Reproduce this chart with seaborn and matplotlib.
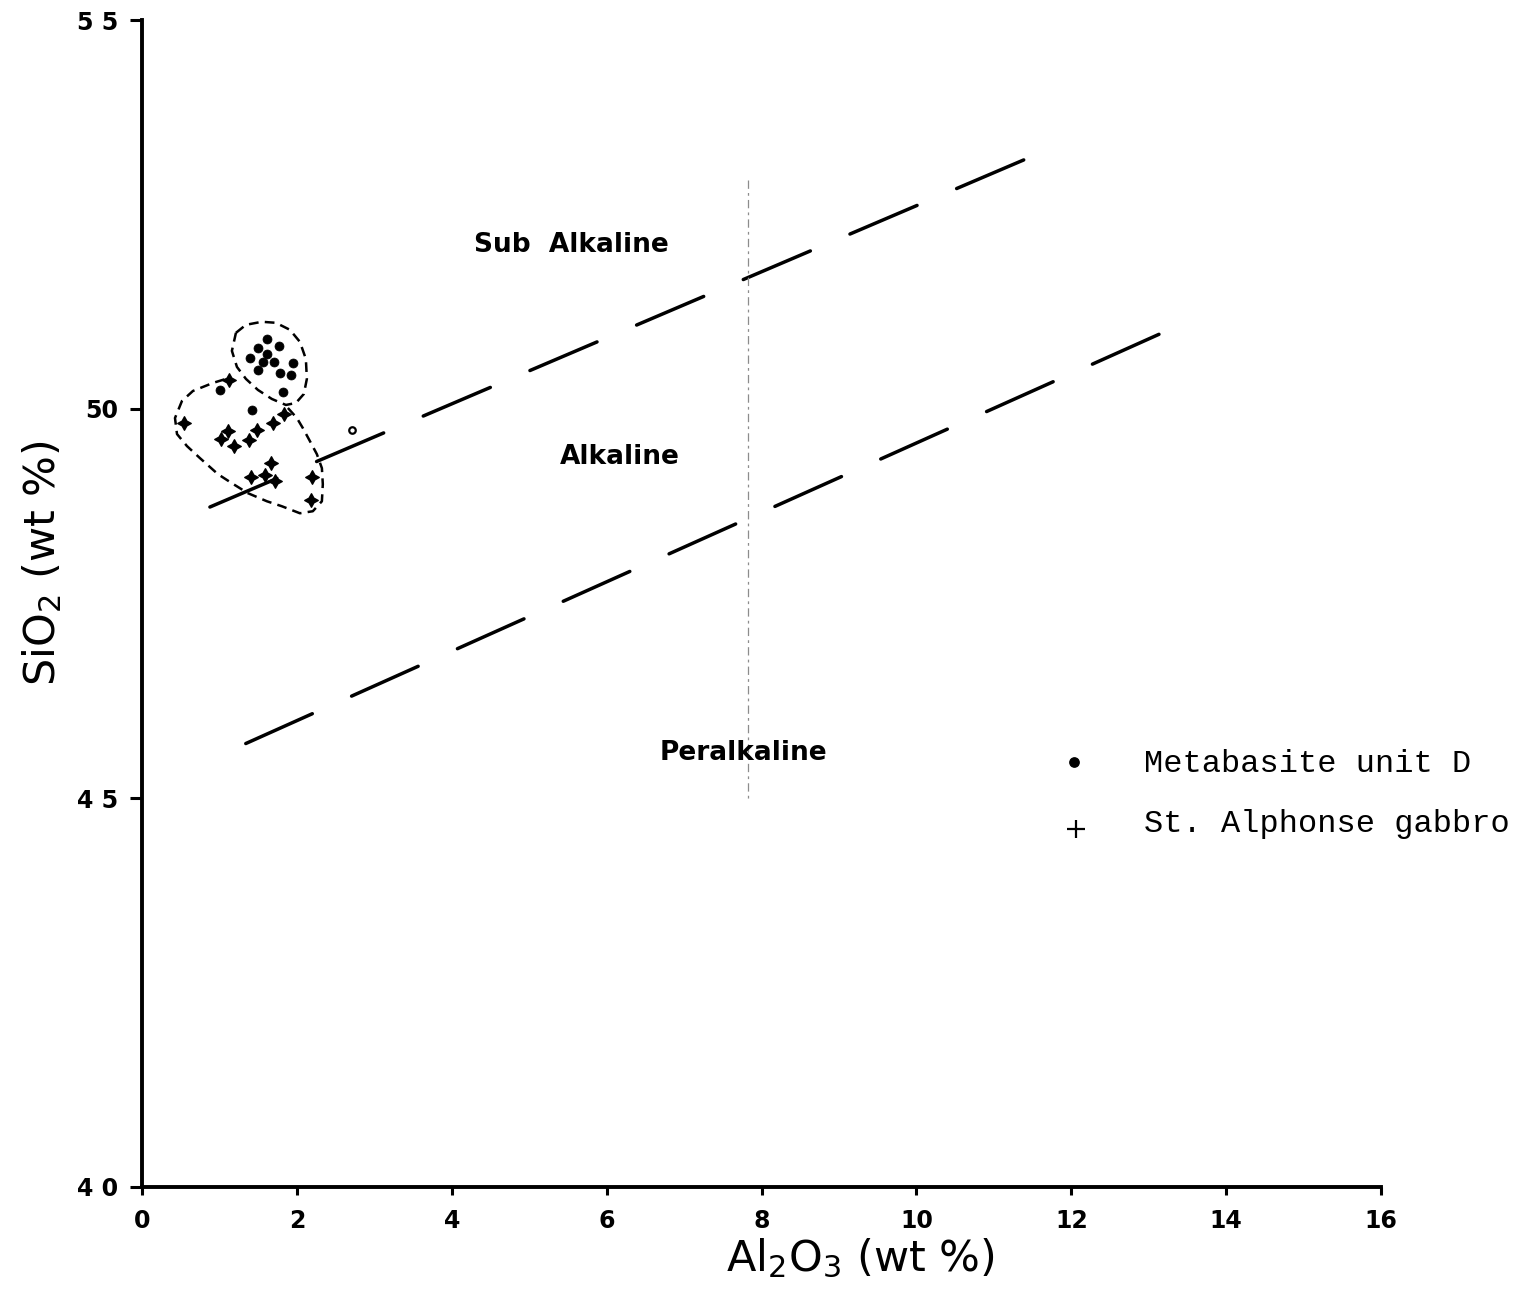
import numpy as np
import pandas as pd
import matplotlib
matplotlib.use("Agg")
import matplotlib.pyplot as plt
import seaborn as sns

# Al2O3 (x) and SiO2 (y), wt %
metabasite_al2o3 = [1.619, 1.503, 1.775, 1.394, 1.617, 1.557, 1.701, 1.955,
                    1.503, 1.783, 1.919, 1.823, 1.415, 1.006]
metabasite_sio2 = [50.898, 50.786, 50.805, 50.661, 50.711, 50.603, 50.603, 50.586,
                   50.499, 50.461, 50.441, 50.216, 49.981, 50.245]

gabbro_al2o3 = [0.542, 1.114, 1.019, 1.194, 1.385, 1.486, 1.694, 1.836,
                1.665, 1.413, 1.587, 1.723, 2.194, 2.181, 1.123]
gabbro_sio2 = [49.816, 49.723, 49.616, 49.528, 49.603, 49.732, 49.816, 49.932,
               49.302, 49.130, 49.152, 49.072, 49.121, 48.830, 50.374]

open_al2o3 = [2.714]
open_sio2 = [49.726]

# field boundaries (end points)
upper_boundary_x = [0.877, 11.43]
upper_boundary_y = [48.74, 53.22]
lower_boundary_x = [1.34, 13.20]
lower_boundary_y = [45.70, 50.99]
divider_x = [7.83, 7.83]
divider_y = [52.94, 44.95]

# hand-drawn outlines around the two groups
metabasite_outline_x = [1.213, 1.342, 1.548, 1.729, 1.910, 2.039, 2.116, 2.129,
                        2.090, 1.987, 1.858, 1.677, 1.497, 1.342, 1.226, 1.161]
metabasite_outline_y = [50.979, 51.082, 51.121, 51.108, 51.018, 50.863, 50.644, 50.387,
                        50.193, 50.077, 50.052, 50.129, 50.245, 50.387, 50.541, 50.747]
gabbro_outline_x = [1.884, 2.000, 2.077, 2.168, 2.258, 2.323, 2.335, 2.323, 2.206,
                    2.039, 1.806, 1.613, 1.368, 1.161, 0.981, 0.748, 0.581, 0.452,
                    0.426, 0.516, 0.658, 0.916, 1.123]
gabbro_outline_y = [50.013, 49.884, 49.755, 49.588, 49.420, 49.240, 49.034, 48.814, 48.686,
                    48.660, 48.750, 48.814, 48.918, 49.046, 49.162, 49.369, 49.523, 49.678,
                    49.884, 50.103, 50.232, 50.335, 50.399]

field_labels = ["Sub  Alkaline", "Alkaline", "Peralkaline"]
field_label_x = [5.55, 6.17, 7.77]
field_label_y = [52.11, 49.38, 45.58]

legend_labels = ["Metabasite unit D", "St. Alphonse gabbro"]

x_ticks = [0, 2, 4, 6, 8, 10, 12, 14, 16]
y_ticks = [40, 45, 50, 55]
y_tick_labels = ["4 0", "4 5", "50", "5 5"]

sns.set_theme(style="white")
plt.rcParams["font.family"] = ["DejaVu Sans"]
plt.rcParams["mathtext.default"] = "regular"
plt.rcParams["lines.scale_dashes"] = False

fig = plt.figure(figsize=(15.32, 12.92), dpi=100)
fig.patch.set_facecolor("white")
ax = fig.add_axes([142 / 1532, 1 - 1187 / 1292, (1381 - 142) / 1532, (1187 - 20) / 1292])
ax.set_facecolor("white")

# field boundaries
dash = (0, (52.5, 31.0))
ax.plot(upper_boundary_x, upper_boundary_y, color="black", lw=2.5,
        linestyle=dash, dash_capstyle="round")
ax.plot(lower_boundary_x, lower_boundary_y, color="black", lw=2.5,
        linestyle=dash, dash_capstyle="round")
ax.plot(divider_x, divider_y, color="0.55", lw=0.9, linestyle=(0, (6, 3, 2, 3)))

# group outlines
ax.plot(metabasite_outline_x + metabasite_outline_x[:1],
        metabasite_outline_y + metabasite_outline_y[:1],
        color="black", lw=1.8, linestyle=(0, (7, 4.5)))
ax.plot(gabbro_outline_x, gabbro_outline_y,
        color="black", lw=1.8, linestyle=(0, (7, 4.5)))

# samples
df_m = pd.DataFrame({"Al2O3": metabasite_al2o3, "SiO2": metabasite_sio2})
df_g = pd.DataFrame({"Al2O3": gabbro_al2o3, "SiO2": gabbro_sio2})
sns.scatterplot(data=df_m, x="Al2O3", y="SiO2", ax=ax, marker="o", s=42,
                color="black", edgecolor="black", linewidth=0.5, zorder=5)
sns.scatterplot(data=df_g, x="Al2O3", y="SiO2", ax=ax, marker=(4, 1, 0), s=95,
                color="black", edgecolor="black", linewidth=1.0, zorder=5)
ax.scatter(open_al2o3, open_sio2, marker="o", s=22, facecolor="white",
           edgecolor="black", linewidth=1.6, zorder=5)

# field names
for label, lx, ly in zip(field_labels, field_label_x, field_label_y):
    ax.text(lx, ly, label, ha="center", va="center", fontsize=19,
            fontweight="bold", color="black", family=["DejaVu Sans"])

# key
ax.scatter([12.04], [45.46], marker="o", s=45, color="black", zorder=5)
ax.scatter([12.065], [44.60], marker="+", s=170, color="black", linewidth=1.6, zorder=5)
ax.text(12.94, 45.335, legend_labels[0], ha="left", va="baseline", fontsize=23,
        family=["Liberation Mono", "DejaVu Sans Mono"], color="black")
ax.text(12.94, 44.562, legend_labels[1], ha="left", va="baseline", fontsize=23,
        family=["Liberation Mono", "DejaVu Sans Mono"], color="black")

# axes
ax.set_xlim(0, 16)
ax.set_ylim(40, 55)
ax.set_xticks(x_ticks)
ax.set_xticklabels([str(t) for t in x_ticks])
ax.set_yticks(y_ticks)
ax.set_yticklabels(y_tick_labels)
for lab in ax.get_xticklabels() + ax.get_yticklabels():
    lab.set_fontweight("bold")
    lab.set_fontsize(17)
    lab.set_color("black")
ax.tick_params(axis="x", bottom=True, direction="out", length=6, width=2.2, pad=10,
               color="black")
ax.tick_params(axis="y", left=True, direction="out", length=9, width=2.2, pad=8,
               color="black")
for side in ["top", "right"]:
    ax.spines[side].set_visible(False)
for side in ["left", "bottom"]:
    ax.spines[side].set_linewidth(2.8)
    ax.spines[side].set_color("black")
ax.set_xlabel("")
ax.set_ylabel("")
ax.grid(False)

fig.text(55 / 1532, 1 - 563 / 1292, r"SiO$_2$ (wt %)", rotation=90,
         rotation_mode="anchor", ha="center", va="baseline", fontsize=31, color="black")
fig.text(860 / 1532, 1 - 1271 / 1292, r"Al$_2$O$_3$ (wt %)",
         ha="center", va="baseline", fontsize=31, color="black")

fig.savefig("out.png", dpi=100, facecolor="white")
